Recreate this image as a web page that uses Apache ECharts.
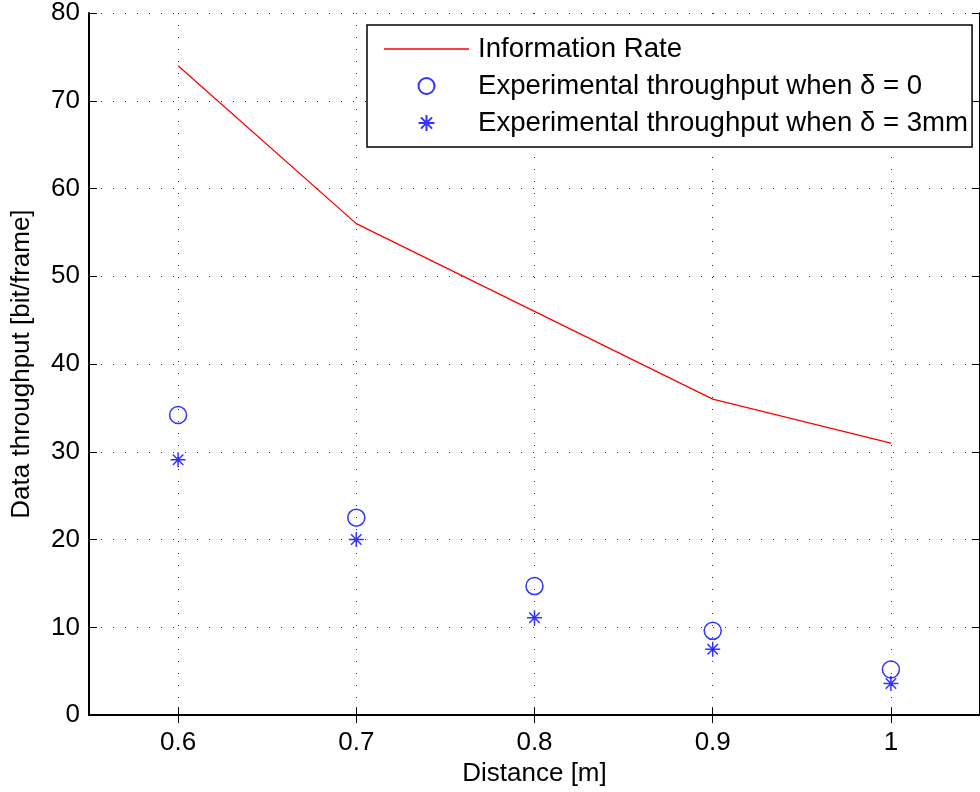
<!DOCTYPE html>
<html>
<head>
<meta charset="utf-8">
<script src="https://cdn.jsdelivr.net/npm/echarts@6/dist/echarts.min.js"></script>
<style>html,body{margin:0;padding:0;background:#fff;}#c{width:980px;height:792px;}</style>
</head>
<body>
<div id="c"></div>
<script>
const distances = [0.6, 0.7, 0.8, 0.9, 1.0];
const infoRate = [74, 56, 46, 36, 31];
const throughputDelta0 = [34.2, 22.5, 14.7, 9.6, 5.2];
const throughputDelta3 = [29.1, 20.0, 11.1, 7.5, 3.6];
const xTicks = [0.6, 0.7, 0.8, 0.9, 1.0];
const seriesNames = ['Information Rate', 'Experimental throughput when δ = 0', 'Experimental throughput when δ = 3mm'];

const font = 'Liberation Sans, Arial, Helvetica, sans-serif';
const pair = ys => distances.map((d, i) => [d, ys[i]]);
const starPath = 'path://M10,0L10,20M0,10L20,10M3,3L17,17M3,17L17,3';

const chart = echarts.init(document.getElementById('c'));
const gridLine = { show: true, lineStyle: { color: '#333', type: [1, 11], width: 1 } };
chart.setOption({
  animation: false,
  backgroundColor: '#fff',
  grid: { left: 89, top: 13, right: -2, bottom: 76, containLabel: false },
  xAxis: [{
    type: 'value', min: 0.55, max: 1.05, position: 'bottom',
    name: 'Distance [m]', nameLocation: 'middle', nameGap: 43,
    nameTextStyle: { fontFamily: font, fontSize: 26, color: '#000' },
    axisLine: { show: true, lineStyle: { color: '#000', width: 2 } },
    axisTick: { show: true, inside: true, length: 8, customValues: xTicks, lineStyle: { color: '#000', width: 1 } },
    axisLabel: { show: true, customValues: xTicks, margin: 15, fontFamily: font, fontSize: 26, color: '#000',
      formatter: v => (Math.abs(v - 1) < 1e-9 ? '1' : String(Math.round(v * 10) / 10)) },
    splitLine: gridLine
  }, {
    type: 'value', min: 0.55, max: 1.05, position: 'top',
    axisLine: { show: true, lineStyle: { color: '#000', width: 2 } },
    axisTick: { show: true, inside: true, length: 8, customValues: xTicks, lineStyle: { color: '#000', width: 1 } },
    axisLabel: { show: false }, splitLine: { show: false }
  }],
  yAxis: [{
    type: 'value', min: 0, max: 80, interval: 10, position: 'left',
    name: 'Data throughput [bit/frame]', nameLocation: 'middle', nameGap: 54,
    nameTextStyle: { fontFamily: font, fontSize: 26, color: '#000' },
    axisLine: { show: true, lineStyle: { color: '#000', width: 2 } },
    axisTick: { show: true, inside: true, length: 8, lineStyle: { color: '#000', width: 1 } },
    axisLabel: { margin: 9, fontFamily: font, fontSize: 26, color: '#000' },
    splitLine: gridLine
  }, {
    type: 'value', min: 0, max: 80, interval: 10, position: 'right',
    axisLine: { show: true, lineStyle: { color: '#000', width: 2 } },
    axisTick: { show: true, inside: true, length: 8, lineStyle: { color: '#000', width: 1 } },
    axisLabel: { show: false }, splitLine: { show: false }
  }],
  legend: {
    show: true,
    orient: 'vertical', left: 367, top: 25,
    padding: [10, 4, 10, 17],
    backgroundColor: '#fff', borderColor: '#000', borderWidth: 1.5,
    itemWidth: 85, itemHeight: 16, itemGap: 9,
    textStyle: { fontFamily: font, fontSize: 27.6, color: '#000', padding: [0, 0, 0, 4] },
    data: [
      { name: seriesNames[0], icon: 'path://M0,0L200,0L200,3L0,3Z' },
      { name: seriesNames[1] },
      { name: seriesNames[2] }
    ]
  },
  series: [{
    name: seriesNames[0], type: 'line', data: pair(infoRate), symbol: 'none',
    lineStyle: { color: '#ff0000', width: 1.3 }, itemStyle: { color: '#ff0000' }
  }, {
    name: seriesNames[1], type: 'scatter', data: pair(throughputDelta0), symbol: 'circle', symbolSize: 17,
    itemStyle: { color: 'none', borderColor: '#0000ff', borderWidth: 1.5 }
  }, {
    name: seriesNames[2], type: 'scatter', data: pair(throughputDelta3), symbol: starPath, symbolSize: 15,
    itemStyle: { color: 'none', borderColor: '#0000ff', borderWidth: 1.5 }
  }]
});
</script>
</body>
</html>
